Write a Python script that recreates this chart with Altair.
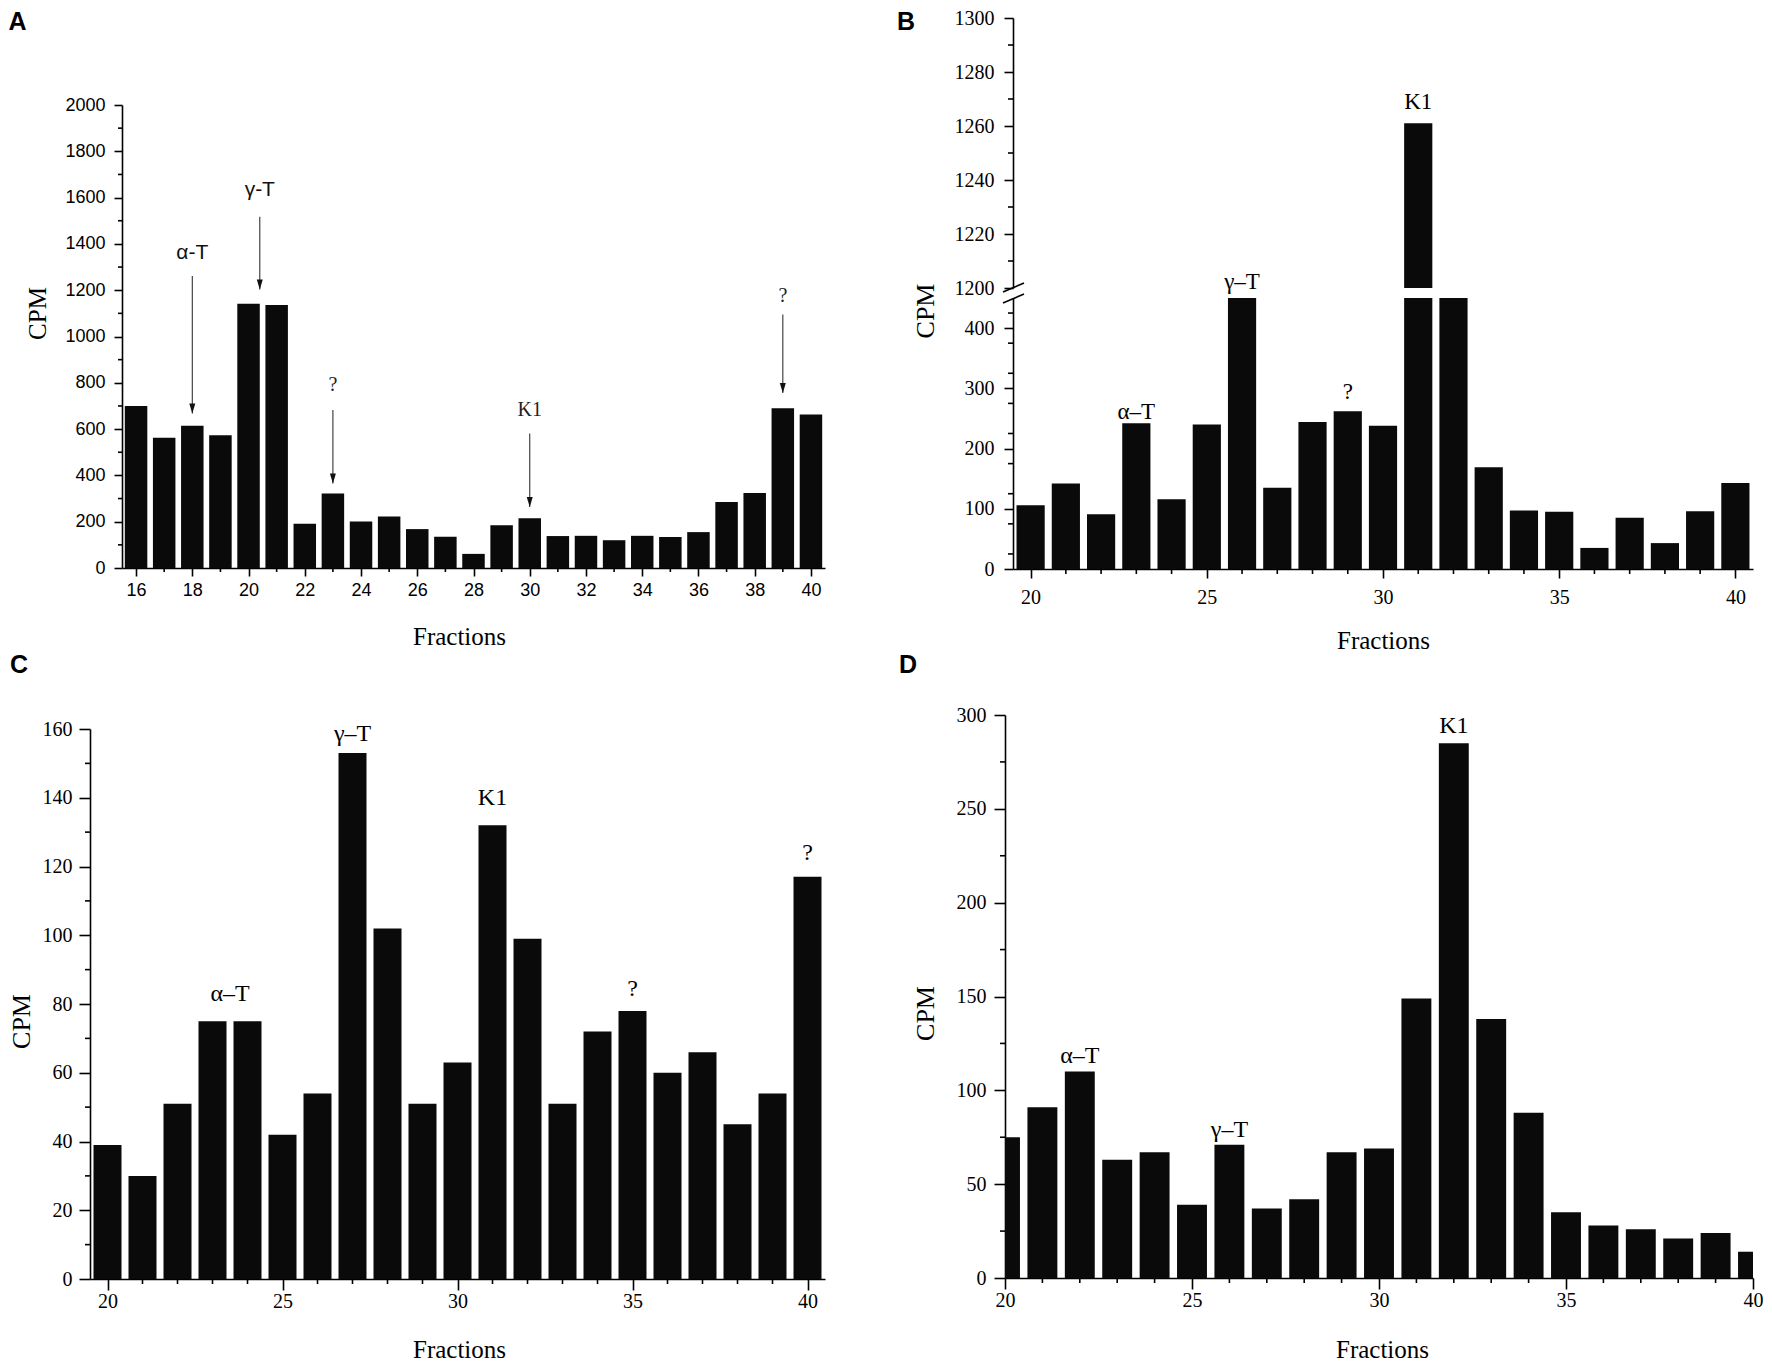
import altair as alt
import pandas as pd

# ---------------- data ----------------
A_FRACTIONS = list(range(16, 41))
A_CPM = [700, 563, 614, 573, 1142, 1136, 191, 322, 201, 222, 168, 135, 61, 185,
         215, 138, 139, 120, 139, 134, 155, 285, 324, 690, 663]
A_LABELS = ["α-T", "γ-T", "?", "K1", "?"]
A_LABEL_X = [18, 20.4, 23, 30, 39]
A_LABEL_Y = [1362, 1633, 790, 682, 1174]
A_ARROW_FROM = [1261, 1517, 682, 581, 1095]
A_ARROW_TO = [667, 1203, 365, 264, 756]
A_Y_MAJOR = list(range(0, 2001, 200))
A_Y_MINOR = list(range(100, 2000, 200))
A_X_MAJOR = list(range(16, 41, 2))
A_X_MINOR = list(range(17, 40, 2))

B_FRACTIONS = list(range(20, 41))
# fractions 26 and 32 run past the axis break (drawn up to the break)
B_CPM = [106, 142, 91, 242, 116, 240, 460, 135, 244, 262, 238, 1261, 460, 169,
         97, 95, 35, 85, 43, 96, 143]
B_LABELS_LOW = ["α–T", "γ–T", "?"]
B_LABEL_LOW_X = [23, 26, 29]
B_LABEL_LOW_Y = [261, 476, 294]
B_LABELS_HIGH = ["K1"]
B_LABEL_HIGH_X = [31]
B_LABEL_HIGH_Y = [1269]
B_YHI_MAJOR = list(range(1200, 1301, 20))
B_YHI_MINOR = list(range(1210, 1300, 20))
B_YLO_MAJOR = list(range(0, 401, 50))
B_YLO_MINOR = list(range(25, 426, 50))

C_FRACTIONS = list(range(20, 41))
C_CPM = [39, 30, 51, 75, 75, 42, 54, 153, 102, 51, 63, 132, 99, 51, 72, 78, 60, 66, 45, 54, 117]
C_LABELS = ["α–T", "γ–T", "K1", "?", "?"]
C_LABEL_X = [23.5, 27, 31, 35, 40]
C_LABEL_Y = [83, 158.5, 140, 84.5, 124]
C_Y_MAJOR = list(range(0, 161, 20))
C_Y_MINOR = list(range(10, 160, 20))

D_FRACTIONS = list(range(20, 41))
D_CPM = [75, 91, 110, 63, 67, 39, 71, 37, 42, 67, 69, 149, 285, 138, 88, 35, 28, 26, 21, 24, 14]
D_LABELS = ["α–T", "γ–T", "K1"]
D_LABEL_X = [22, 26, 32]
D_LABEL_Y = [118.5, 79, 294]
D_Y_MAJOR = list(range(0, 301, 50))
D_Y_MINOR = list(range(25, 300, 50))

X20_MAJOR = [20, 25, 30, 35, 40]
X20_MINOR = [v for v in range(20, 41) if v % 5]

# ---------------- styling ----------------
SERIF = "Liberation Serif"
SANS = "Liberation Sans"
INK = "#0a0a0a"
HALF_BAR = 0.4
ARROW_HEAD = "M-0.3,-1L0.3,-1L0,0Z"
LW = 1.6


def make_axis(values, font, label_size, tick, label_padding, title="", title_size=25,
              title_x=None, title_y=None, offset=None):
    kw = dict(
        values=values, format="d",
        tickSize=tick, tickWidth=LW, tickColor="black",
        domainColor="black", domainWidth=LW,
        labelFont=font, labelFontSize=label_size, labelColor="black",
        labelPadding=label_padding, labelFlush=False, labelOverlap=False,
        labelBound=False, grid=False, title=title,
    )
    if offset is not None:
        kw["offset"] = offset
    if title:
        kw.update(titleFont=SERIF, titleFontSize=title_size, titleFontWeight="normal",
                  titleColor="black", titleX=title_x, titleY=title_y,
                  titleBaseline="middle", titleAlign="center")
    return alt.Axis(**kw)


def minor_y(vals, size, x0=0):
    return alt.Chart(pd.DataFrame({"v": vals})).mark_tick(
        orient="horizontal", size=size, thickness=LW, color="black", opacity=1
    ).encode(y="v:Q", x=alt.value(x0 - size / 2))


def minor_x(vals, size, h):
    return alt.Chart(pd.DataFrame({"v": vals})).mark_tick(
        orient="vertical", size=size, thickness=LW, color="black", opacity=1
    ).encode(x="v:Q", y=alt.value(h + size / 2))


def letter(txt, x, y):
    return alt.Chart(pd.DataFrame({"k": [0]})).mark_text(
        text=txt, font=SANS, fontWeight="bold", fontSize=25, color="black",
        align="center", baseline="middle").encode(x=alt.value(x), y=alt.value(y))


def bars(df, x_scale, y_scale, xaxis, yaxis):
    return alt.Chart(df).transform_calculate(
        lo=f"datum.f - {HALF_BAR}", hi=f"datum.f + {HALF_BAR}"
    ).mark_bar(color=INK, clip=True).encode(
        x=alt.X("lo:Q", scale=x_scale, axis=xaxis),
        x2="hi:Q",
        y=alt.Y("cpm:Q", scale=y_scale, axis=yaxis),
        y2=alt.datum(0),
    )


def texts(labels, xs, ys, font, size):
    df = pd.DataFrame({"t": labels, "x": xs, "y": ys})
    return alt.Chart(df).mark_text(font=font, fontSize=size, color="black",
                                   baseline="middle", align="center").encode(
        x="x:Q", y="y:Q", text="t:N")


LETTER_Y = 4

# ---------------- panel A ----------------
A_SX, A_SY = 32, 87
A_W, A_H = 703, 463
A_TW, A_TH = A_W + A_SX, A_H + A_SY
dfA = pd.DataFrame({"f": A_FRACTIONS, "cpm": A_CPM})
barsA = bars(
    dfA,
    alt.Scale(domain=[15.5, 40.5], range=[A_SX, A_TW], nice=False, zero=False),
    alt.Scale(domain=[0, 2000], range=[A_TH, A_SY], nice=False),
    make_axis(A_X_MAJOR, SANS, 18, 8, 5, "Fractions", 25, 369, 68),
    make_axis(A_Y_MAJOR, SANS, 18, 8, 9, "CPM", 25, -85, A_SY + 208, offset=-A_SX),
)
dfAL = pd.DataFrame({"t": A_LABELS, "x": A_LABEL_X, "y": A_LABEL_Y,
                     "y1": A_ARROW_FROM, "y2": A_ARROW_TO})
labA_sans = alt.Chart(dfAL).transform_filter("indexof(datum.t, 'T') >= 0").mark_text(
    font=SANS, fontSize=21, color="#111", baseline="middle").encode(x="x:Q", y="y:Q", text="t:N")
labA_serif = alt.Chart(dfAL).transform_filter("indexof(datum.t, 'T') < 0").mark_text(
    font=SERIF, fontSize=20, color="#222", baseline="middle").encode(x="x:Q", y="y:Q", text="t:N")
shaftA = alt.Chart(dfAL).mark_rule(color="#333", strokeWidth=1.1).encode(
    x="x:Q", y="y1:Q", y2="y2:Q")
headA = alt.Chart(dfAL).mark_point(shape=ARROW_HEAD, filled=True, size=400, color="#111",
                                   opacity=1, strokeWidth=0).encode(x="x:Q", y="y2:Q")
chartA = alt.layer(
    barsA, minor_y(A_Y_MINOR, 4, A_SX), minor_x(A_X_MINOR, 4, A_TH),
    shaftA, headA, labA_sans, labA_serif, letter("A", -72.5, LETTER_Y)
).properties(width=A_TW, height=A_TH)

# ---------------- panel B (broken axis) ----------------
B_W, B_UP_H, B_LO_H = 740, 270, 271
dfB = pd.DataFrame({"f": B_FRACTIONS, "cpm": B_CPM})
one = pd.DataFrame({"k": [0]})
xB = alt.Scale(domain=[19.5, 40.5], nice=False, zero=False)
barsB_up = bars(
    dfB, xB, alt.Scale(domain=[1200, 1300], nice=False, zero=False), None,
    make_axis(B_YHI_MAJOR, SERIF, 20, 9, 10),
)
breakB_up = alt.Chart(one).mark_rule(color="black", strokeWidth=LW).encode(
    x=alt.value(-10), x2=alt.value(11), y=alt.value(B_UP_H + 4), y2=alt.value(B_UP_H - 5))
chartB_up = alt.layer(
    barsB_up, minor_y(B_YHI_MINOR, 5),
    texts(B_LABELS_HIGH, B_LABEL_HIGH_X, B_LABEL_HIGH_Y, SERIF, 23), breakB_up,
    letter("B", -107, LETTER_Y)
).properties(width=B_W, height=B_UP_H)

barsB_lo = bars(
    dfB, xB, alt.Scale(domain=[0, 450], nice=False),
    make_axis(X20_MAJOR, SERIF, 20, 9, 9, "Fractions", 25, 370, 71),
    make_axis(B_YLO_MAJOR, SERIF, 20, 9, 10, "CPM", 26, -88, 12.5),
)
breakB_lo = alt.Chart(one).mark_rule(color="black", strokeWidth=LW).encode(
    x=alt.value(-10), x2=alt.value(11), y=alt.value(5), y2=alt.value(-4))
chartB_lo = alt.layer(
    barsB_lo, minor_y(B_YLO_MINOR, 5), minor_x(X20_MINOR, 5, B_LO_H),
    texts(B_LABELS_LOW, B_LABEL_LOW_X, B_LABEL_LOW_Y, SERIF, 23), breakB_lo
).properties(width=B_W, height=B_LO_H)

chartB = alt.vconcat(chartB_up, chartB_lo, spacing=10, bounds="flush").resolve_scale(
    x="independent", y="independent")

# ---------------- panel C ----------------
C_SY = 14
C_W, C_H = 735, 550
C_TH = C_H + C_SY
dfC = pd.DataFrame({"f": C_FRACTIONS, "cpm": C_CPM})
barsC = bars(
    dfC,
    alt.Scale(domain=[19.5, 40.5], nice=False, zero=False),
    alt.Scale(domain=[0, 160], range=[C_TH, C_SY], nice=False),
    make_axis(X20_MAJOR, SERIF, 20, 11, 1, "Fractions", 25, 369, 70),
    make_axis(C_Y_MAJOR, SERIF, 20, 11, 7, "CPM", 26, -69, 306),
)
chartC = alt.layer(
    barsC, minor_y(C_Y_MINOR, 5), minor_x(X20_MINOR, 5, C_TH),
    texts(C_LABELS, C_LABEL_X, C_LABEL_Y, SERIF, 24), letter("C", -71, -50)
).properties(width=C_W, height=C_TH)

# ---------------- panel D ----------------
D_W, D_H = 748, 563
dfD = pd.DataFrame({"f": D_FRACTIONS, "cpm": D_CPM})
barsD = bars(
    dfD,
    alt.Scale(domain=[20, 40], nice=False, zero=False),
    alt.Scale(domain=[0, 300], nice=False),
    make_axis(X20_MAJOR, SERIF, 20, 11, 1, "Fractions", 25, 377, 71),
    make_axis(D_Y_MAJOR, SERIF, 20, 11, 8, "CPM", 26, -80, 298),
)
chartD = alt.layer(
    barsD, minor_y(D_Y_MINOR, 5), minor_x(X20_MINOR, 5, D_H),
    texts(D_LABELS, D_LABEL_X, D_LABEL_Y, SERIF, 24), letter("D", -97, -50)
).properties(width=D_W, height=D_H)

# ---------------- layout ----------------
top_row = alt.hconcat(chartA, chartB, spacing=71).resolve_scale(x="independent", y="independent")
bottom_row = alt.hconcat(chartC, chartD, spacing=73).resolve_scale(x="independent", y="independent")

chart = alt.vconcat(top_row, bottom_row, spacing=0).resolve_scale(
    x="independent", y="independent"
).properties(
    padding={"left": 0, "top": 0, "right": 0, "bottom": 0}
).configure(background="white").configure_view(stroke="transparent", strokeWidth=0)

chart.save("out.html", embed_options={"renderer": "svg", "actions": False})
